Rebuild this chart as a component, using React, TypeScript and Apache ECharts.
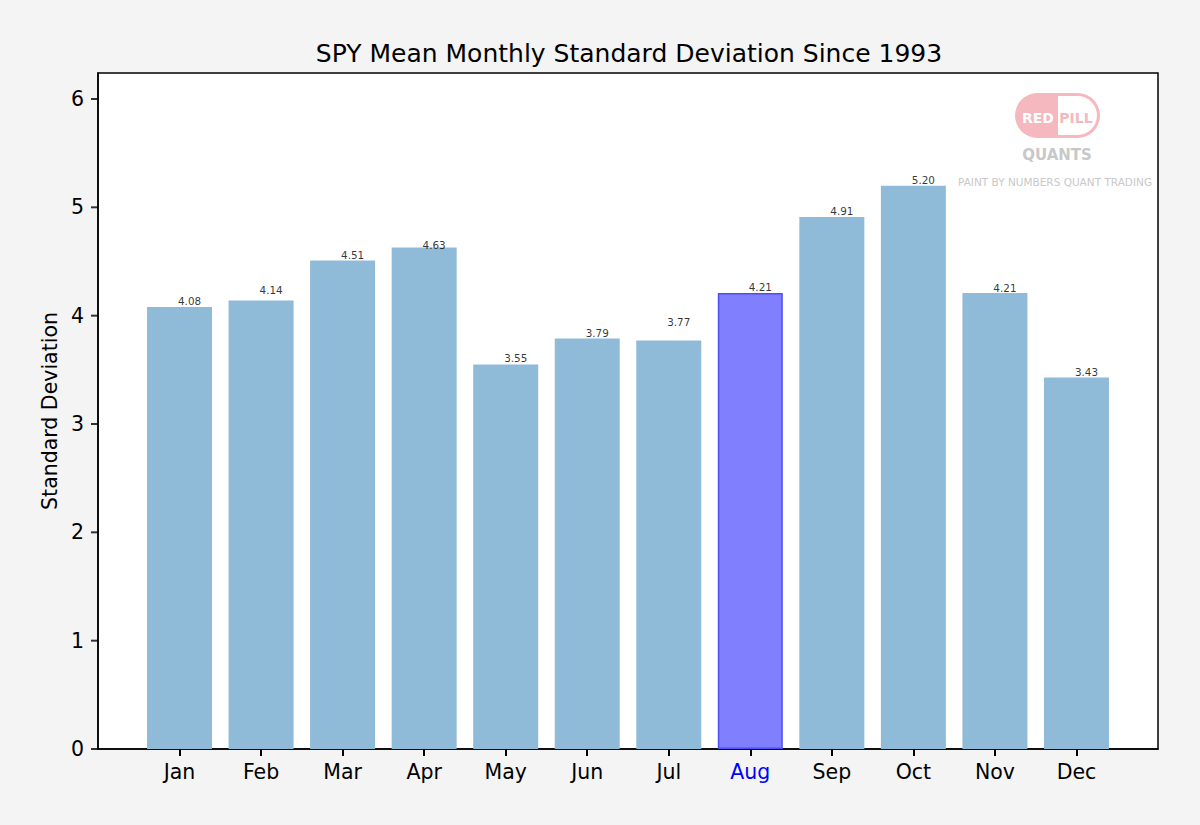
import { useEffect, useRef } from "react";
import * as echarts from "echarts";

// values
const MONTHS = ["Jan", "Feb", "Mar", "Apr", "May", "Jun", "Jul", "Aug", "Sep", "Oct", "Nov", "Dec"];
const STD_DEV = [4.08, 4.14, 4.51, 4.63, 3.55, 3.79, 3.77, 4.21, 4.91, 5.2, 4.21, 3.43];
// where each value label sits (in data units), as in the original
const LABEL_POS = [4.135, 4.237, 4.56, 4.65, 3.61, 3.84, 3.94, 4.265, 4.966, 5.25, 4.255, 3.48];
const Y_TICKS = [0, 1, 2, 3, 4, 5, 6];
const HIGHLIGHT = "Aug";

const FONT = "DejaVu Sans, sans-serif";
const BAR = "#8fbbd9";
const BAR_HI = "#8080ff";
const EDGE_HI = "#4d4df5";

export default function App() {
  const ref = useRef<HTMLDivElement>(null);

  useEffect(() => {
    if (!ref.current) return;
    const chart = echarts.init(ref.current, null, { renderer: "svg" });
    // one empty slot on each side gives matplotlib's side margins
    const cats = ["", ...MONTHS, ""];
    const isMonth = (i: number) => i > 0 && i <= MONTHS.length;

    chart.setOption({
      animation: false,
      backgroundColor: "#f4f4f4",
      textStyle: { fontFamily: FONT },
      title: {
        text: "SPY Mean Monthly Standard Deviation Since 1993",
        left: 624,
        textAlign: "center",
        top: 36,
        textStyle: { fontFamily: FONT, fontSize: 25, fontWeight: "normal", color: "#000" },
      },
      grid: {
        left: 98, right: 42, top: 73, bottom: 76,
        show: true, backgroundColor: "#fff", borderColor: "#000", borderWidth: 1.5,
      },
      xAxis: {
        type: "category",
        data: cats,
        boundaryGap: false,
        splitLine: { show: false },
        axisLine: { show: true, onZero: false, lineStyle: { color: "#000", width: 1.5 } },
        axisTick: {
          show: true,
          length: 7,
          interval: (i: number) => isMonth(i),
          lineStyle: { color: "#000", width: 2 },
        },
        axisLabel: {
          interval: (i: number) => isMonth(i),
          margin: 12,
          fontFamily: FONT,
          fontSize: 20.5,
          formatter: (v: string) => (v === HIGHLIGHT ? `{hi|${v}}` : v),
          color: "#000",
          rich: { hi: { color: "#0000ff", fontFamily: FONT, fontSize: 20.5 } },
        },
      },
      yAxis: {
        type: "value",
        min: 0,
        max: 6.24,
        name: "Standard Deviation",
        nameLocation: "middle",
        nameGap: 37,
        nameTextStyle: { fontFamily: FONT, fontSize: 20.5, color: "#000" },
        splitLine: { show: false },
        axisLine: { show: true, onZero: false, lineStyle: { color: "#000", width: 1.5 } },
        axisTick: { show: false },
        axisLabel: {
          customValues: Y_TICKS,
          margin: 14,
          fontFamily: FONT,
          fontSize: 20.5,
          color: "#000",
        },
      },
      series: [
        {
          type: "bar",
          barWidth: 65,
          data: STD_DEV.map((v, i) => ({
            value: [i + 1, v],
            itemStyle:
              MONTHS[i] === HIGHLIGHT
                ? { color: BAR_HI, borderColor: EDGE_HI, borderWidth: 1.5 }
                : { color: BAR },
          })),
        },
        {
          // value labels
          type: "scatter",
          symbolSize: 0,
          silent: true,
          z: 5,
          data: LABEL_POS.map((p, i) => ({
            value: [i + 1, p],
            label: {
              show: true,
              position: "inside",
              offset: [10, 0],
              formatter: STD_DEV[i].toFixed(2),
              fontFamily: FONT,
              fontSize: 10.4,
              color: "#000",
              textBorderWidth: 0,
            },
          })),
        },
        {
          // y-axis tick marks, outward from the left spine
          type: "scatter",
          silent: true,
          clip: false,
          symbol: "rect",
          symbolSize: [7, 2],
          symbolOffset: [-3.5, 0],
          itemStyle: { color: "#000" },
          data: Y_TICKS.map((t) => [0, t]),
        },
      ],
      graphic: [
        // Red Pill Quants watermark
        { type: "rect", shape: { x: 1015, y: 93, width: 85, height: 45, r: 22.5 }, style: { fill: "#f4b8be" }, z: 10 },
        { type: "rect", shape: { x: 1058, y: 96, width: 39, height: 39, r: [0, 19.5, 19.5, 0] }, style: { fill: "#fff" }, z: 11 },
        {
          type: "text", x: 1038, y: 118, z: 12,
          style: { text: "RED", fill: "#fff", font: `bold 14px ${FONT}`, align: "center", verticalAlign: "middle" },
        },
        {
          type: "text", x: 1076, y: 118, z: 12,
          style: { text: "PILL", fill: "#f4b8be", font: `bold 14px ${FONT}`, align: "center", verticalAlign: "middle" },
        },
        {
          type: "text", x: 1057, y: 155, z: 12,
          style: { text: "QUANTS", fill: "#c8c8c8", font: `bold 15px ${FONT}`, align: "center", verticalAlign: "middle" },
        },
        {
          type: "text", x: 1055, y: 182, z: 12,
          style: { text: "PAINT BY NUMBERS QUANT TRADING", fill: "#c8c8c8", font: `10.5px ${FONT}`, align: "center", verticalAlign: "middle" },
        },
      ],
    });

    return () => chart.dispose();
  }, []);

  return <div ref={ref} style={{ position: "fixed", left: 0, top: 0, width: 1200, height: 825 }} />;
}
